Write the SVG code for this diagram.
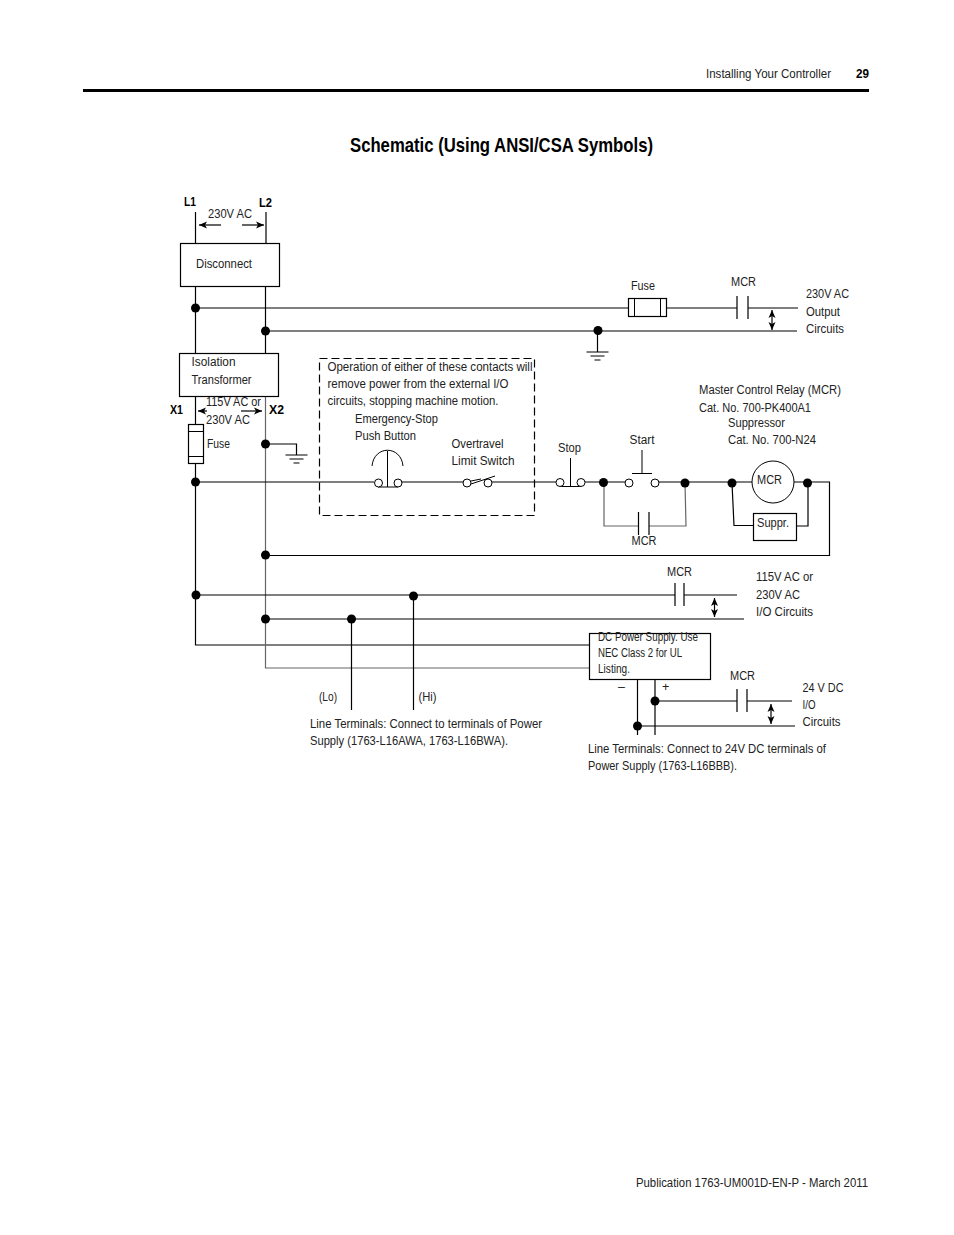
<svg xmlns="http://www.w3.org/2000/svg" width="954" height="1235" viewBox="0 0 954 1235">
<style>
text{font-family:"Liberation Sans",Arial,sans-serif;font-size:12.5px;fill:#222;transform:translateY(-0.7px)}
.b{font-weight:bold;fill:#000}
.w{fill:none;stroke:#000;stroke-width:1.2}
.g{fill:none;stroke:#666;stroke-width:1.2}
.box{fill:#fff;stroke:#000;stroke-width:1.2}
.t{fill:none;stroke:#000;stroke-width:1}
.d{fill:#000;stroke:none}
.o{fill:#fff;stroke:#000;stroke-width:1}
</style>
<defs>
<marker id="a" viewBox="0 0 8 8" refX="8" refY="4" markerWidth="8" markerHeight="8" orient="auto-start-reverse" markerUnits="userSpaceOnUse"><path d="M0 0.500L8 4L0 7.500L2 4Z" fill="#000"/></marker>
<g id="gnd"><path class="t" d="M-11 0H11M-7 4H7M-3 8H3"/></g>
<circle id="dot" r="4.500" class="d"/>
</defs>

<g id="page-header">
<text x="706" y="79" textLength="125" lengthAdjust="spacingAndGlyphs">Installing Your Controller</text>
<text x="856" y="79" class="b" textLength="13" lengthAdjust="spacingAndGlyphs">29</text>
<rect x="83" y="89" width="786" height="3" fill="#000"/>
<text x="350" y="153" class="b" style="font-size:20.500px" textLength="303" lengthAdjust="spacingAndGlyphs">Schematic (Using ANSI/CSA Symbols)</text>
</g>

<g id="connectors">
<path class="w" d="M195.500 212V243M266 212V243M195.500 287V353M265.500 287V353"/>
<path class="w" d="M195.500 308H628M666 308H737M748 308H798M265.500 331H797M597.500 331V352"/>
<path class="w" d="M195.500 397V424M195.500 463V645H589"/>
<path class="g" d="M265.500 396V668H589"/>
<path class="w" d="M265.500 444H296.500V455"/>
<path class="w" d="M195.500 482H374M402 482H463M492 482H556M585 482H625M659 482H752M794 482H829.500V555.500H265.500"/>
<path class="g" d="M604 483V526H638M649 526H686L685 483"/>
<path class="w" d="M732 483L734 525.500H753M797 526H808V483"/>
<path class="w" d="M196 595H675M684 595H737M265.500 619H744M351.500 619V710M413.500 596V710"/>
<path class="w" d="M637.500 680V735M655 680V735M655 701H737M747 701H792M637.500 726H795"/>
<path class="w" d="M737 296V319M748 296V319M675 583V606M684 583V606M737 689V712M747 689V712M638.500 512V535M649 512V535"/>
<path class="w" marker-start="url(#a)" marker-end="url(#a)" d="M772 310V330"/>
<path class="w" marker-start="url(#a)" marker-end="url(#a)" d="M714.500 598V617"/>
<path class="w" marker-start="url(#a)" marker-end="url(#a)" d="M771 704V724"/>
<path class="w" marker-end="url(#a)" d="M221 225H199"/>
<path class="w" marker-end="url(#a)" d="M242 225H264"/>
<path class="w" marker-end="url(#a)" d="M207 411H198"/>
<path class="w" marker-end="url(#a)" d="M241 411H262"/>
<use href="#dot" x="195.500" y="308"/><use href="#dot" x="265.500" y="331"/><use href="#dot" x="598" y="330.500"/>
<use href="#dot" x="265.500" y="444"/><use href="#dot" x="195.500" y="482"/><use href="#dot" x="265.500" y="555"/>
<use href="#dot" x="196" y="595"/><use href="#dot" x="265.500" y="619"/><use href="#dot" x="351.500" y="619"/><use href="#dot" x="413.500" y="596"/>
<use href="#dot" x="603.500" y="482.500"/><use href="#dot" x="685" y="483"/><use href="#dot" x="732" y="483"/><use href="#dot" x="807.500" y="483"/>
<use href="#dot" x="655" y="701"/><use href="#dot" x="637.500" y="726"/>
</g>

<g id="disconnect"><rect class="box" x="180.500" y="243.500" width="99" height="43"/><text x="196" y="269" textLength="56" lengthAdjust="spacingAndGlyphs">Disconnect</text></g>
<g id="isolation-transformer"><rect class="box" x="179.500" y="353.500" width="99" height="43"/><text x="191.500" y="367" textLength="44" lengthAdjust="spacingAndGlyphs">Isolation</text><text x="191.500" y="385" textLength="60" lengthAdjust="spacingAndGlyphs">Transformer</text></g>
<g id="fuse-x1"><rect class="box" x="188.500" y="424.500" width="15" height="39"/><path class="t" d="M188.500 431.500H203.500M188.500 456.500H203.500"/><text x="207" y="449" textLength="23" lengthAdjust="spacingAndGlyphs">Fuse</text></g>
<g id="ground-x2"><use href="#gnd" x="296.500" y="455"/></g>
<g id="fuse-output"><rect class="box" x="628.500" y="298.500" width="38" height="18"/><path class="t" d="M634.500 298.500V316.500M660.500 298.500V316.500"/><text x="631" y="291" textLength="24" lengthAdjust="spacingAndGlyphs">Fuse</text></g>
<g id="ground-output"><use href="#gnd" x="597.500" y="352"/></g>
<g id="safety-zone"><rect x="319.500" y="358.500" width="215" height="157" fill="none" stroke="#000" stroke-width="1.200" stroke-dasharray="8 4"/>
<text x="327.500" y="372" textLength="205" lengthAdjust="spacingAndGlyphs">Operation of either of these contacts will</text>
<text x="327.500" y="389" textLength="181" lengthAdjust="spacingAndGlyphs">remove power from the external I/O</text>
<text x="327.500" y="406" textLength="171" lengthAdjust="spacingAndGlyphs">circuits, stopping machine motion.</text>
<text x="355" y="424" textLength="83" lengthAdjust="spacingAndGlyphs">Emergency-Stop</text><text x="355" y="441" textLength="61" lengthAdjust="spacingAndGlyphs">Push Button</text>
<text x="451.500" y="449" textLength="52" lengthAdjust="spacingAndGlyphs">Overtravel</text><text x="451.500" y="466" textLength="63" lengthAdjust="spacingAndGlyphs">Limit Switch</text></g>
<g id="estop"><path class="t" d="M372 466C374 445 401 445 403 466M387.500 451V487M378 487H398"/><circle class="o" cx="378.500" cy="483" r="4"/><circle class="o" cx="398" cy="483" r="4"/></g>
<g id="limit-switch"><circle class="o" cx="467" cy="483" r="4"/><circle class="o" cx="488" cy="483" r="4"/><path class="t" d="M471 484L495 476M471 481L481 479"/></g>
<g id="stop"><path class="t" d="M570.500 458V487M560 486.500H581"/><circle class="o" cx="560" cy="482.500" r="4"/><circle class="o" cx="581" cy="482.500" r="4"/><text x="558" y="453" textLength="23" lengthAdjust="spacingAndGlyphs">Stop</text></g>
<g id="start"><path class="t" d="M642 450V473.500M632 473.500H652"/><circle class="o" cx="629" cy="483" r="4"/><circle class="o" cx="655" cy="483" r="4"/><text x="629.500" y="445" textLength="25" lengthAdjust="spacingAndGlyphs">Start</text></g>
<g id="mcr-coil"><circle class="o" cx="773" cy="482" r="21"/><text x="757" y="485" textLength="25" lengthAdjust="spacingAndGlyphs">MCR</text></g>
<g id="suppressor"><rect class="box" x="753.500" y="513.500" width="43" height="27"/><text x="757" y="528" textLength="32" lengthAdjust="spacingAndGlyphs">Suppr.</text></g>
<g id="dc-supply"><rect class="box" x="589.500" y="633.500" width="121" height="46"/>
<text x="598" y="642" textLength="100" lengthAdjust="spacingAndGlyphs">DC Power Supply. Use</text><text x="598" y="658" textLength="84" lengthAdjust="spacingAndGlyphs">NEC Class 2 for UL</text><text x="598" y="674" textLength="32" lengthAdjust="spacingAndGlyphs">Listing.</text></g>

<g id="labels">
<text x="184" y="207" class="b" textLength="12" lengthAdjust="spacingAndGlyphs">L1</text><text x="259" y="208" class="b" textLength="13" lengthAdjust="spacingAndGlyphs">L2</text><text x="208" y="219" textLength="44" lengthAdjust="spacingAndGlyphs">230V AC</text>
<text x="170" y="415" class="b" textLength="13" lengthAdjust="spacingAndGlyphs">X1</text><text x="269" y="415" class="b" textLength="15" lengthAdjust="spacingAndGlyphs">X2</text>
<text x="206" y="407" textLength="55" lengthAdjust="spacingAndGlyphs">115V AC or</text><text x="206" y="425" textLength="44" lengthAdjust="spacingAndGlyphs">230V AC</text>
<text x="731" y="287" textLength="25" lengthAdjust="spacingAndGlyphs">MCR</text>
<text x="806" y="299" textLength="43" lengthAdjust="spacingAndGlyphs">230V AC</text><text x="806" y="317" textLength="34" lengthAdjust="spacingAndGlyphs">Output</text><text x="806" y="334" textLength="38" lengthAdjust="spacingAndGlyphs">Circuits</text>
<text x="699" y="395" textLength="142" lengthAdjust="spacingAndGlyphs">Master Control Relay (MCR)</text><text x="699" y="413" textLength="112" lengthAdjust="spacingAndGlyphs">Cat. No. 700-PK400A1</text>
<text x="728" y="428" textLength="57" lengthAdjust="spacingAndGlyphs">Suppressor</text><text x="728" y="445" textLength="88" lengthAdjust="spacingAndGlyphs">Cat. No. 700-N24</text>
<text x="631.500" y="546" textLength="25" lengthAdjust="spacingAndGlyphs">MCR</text><text x="667" y="577" textLength="25" lengthAdjust="spacingAndGlyphs">MCR</text>
<text x="756" y="582" textLength="57" lengthAdjust="spacingAndGlyphs">115V AC or</text><text x="756" y="600" textLength="44" lengthAdjust="spacingAndGlyphs">230V AC</text><text x="756" y="617" textLength="57" lengthAdjust="spacingAndGlyphs">I/O Circuits</text>
<text x="730" y="681" textLength="25" lengthAdjust="spacingAndGlyphs">MCR</text>
<text x="618" y="692">–</text><text x="662" y="692">+</text>
<text x="802.500" y="693" textLength="41" lengthAdjust="spacingAndGlyphs">24 V DC</text><text x="802.500" y="710" textLength="13" lengthAdjust="spacingAndGlyphs">I/O</text><text x="802.500" y="727" textLength="38" lengthAdjust="spacingAndGlyphs">Circuits</text>
<text x="319" y="702" textLength="18" lengthAdjust="spacingAndGlyphs">(Lo)</text><text x="418.500" y="702" textLength="18" lengthAdjust="spacingAndGlyphs">(Hi)</text>
<text x="310" y="729" textLength="232" lengthAdjust="spacingAndGlyphs">Line Terminals: Connect to terminals of Power</text><text x="310" y="746" textLength="198" lengthAdjust="spacingAndGlyphs">Supply (1763-L16AWA, 1763-L16BWA).</text>
<text x="588" y="754" textLength="238" lengthAdjust="spacingAndGlyphs">Line Terminals: Connect to 24V DC terminals of</text><text x="588" y="771" textLength="149" lengthAdjust="spacingAndGlyphs">Power Supply (1763-L16BBB).</text>
<text x="636" y="1188" textLength="232" lengthAdjust="spacingAndGlyphs">Publication 1763-UM001D-EN-P - March 2011</text>
</g>
</svg>
